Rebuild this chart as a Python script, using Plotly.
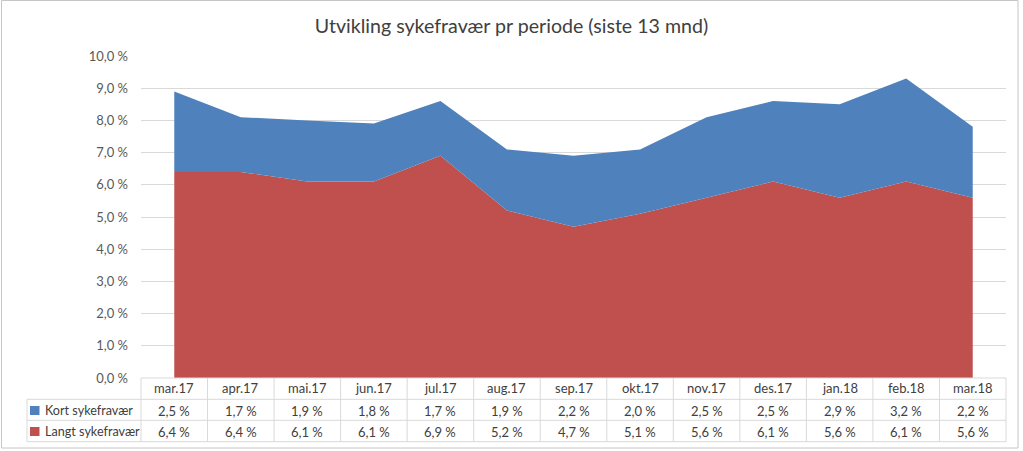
import plotly.graph_objects as go

# ---- data ----
categories = ["mar.17", "apr.17", "mai.17", "jun.17", "jul.17", "aug.17", "sep.17",
              "okt.17", "nov.17", "des.17", "jan.18", "feb.18", "mar.18"]
kort = [2.5, 1.7, 1.9, 1.8, 1.7, 1.9, 2.2, 2.0, 2.5, 2.5, 2.9, 3.2, 2.2]
langt = [6.4, 6.4, 6.1, 6.1, 6.9, 5.2, 4.7, 5.1, 5.6, 6.1, 5.6, 6.1, 5.6]
series_names = ["Kort sykefravær", "Langt sykefravær"]
y_ticks = [0, 1, 2, 3, 4, 5, 6, 7, 8, 9, 10]
title_text = "Utvikling sykefravær pr periode (siste 13 mnd)"

BLUE = "#4F81BD"
RED = "#C0504D"
GRID = "#d9d9d9"
TXT = "#404040"
FONT = "Lato"

W, H = 1023, 451
L, R, T, B = 141, 17, 56, 73
PW, PH = W - L - R, H - T - B


def px(x):
    return (x - L) / PW


def py(y):
    return (H - B - y) / PH


def fmt(v):
    return f"{v:.1f}".replace(".", ",") + " %"


fig = go.Figure()
fig.add_trace(go.Scatter(x=categories, y=langt, name=series_names[1], stackgroup="one",
                         mode="none", fillcolor=RED, hoverinfo="skip"))
fig.add_trace(go.Scatter(x=categories, y=kort, name=series_names[0], stackgroup="one",
                         mode="none", fillcolor=BLUE, hoverinfo="skip"))

n = len(categories)
shapes = []
annotations = []

line_style = dict(color=GRID, width=1)
y_top = py(378)
y_r1 = py(399.3)
y_r2 = py(420.3)
y_r3 = py(441.7)
# horizontal table lines
shapes.append(dict(type="line", xref="paper", yref="paper", x0=0, x1=1, y0=y_top, y1=y_top, line=line_style))
for yy in (y_r1, y_r2, y_r3):
    shapes.append(dict(type="line", xref="paper", yref="paper", x0=px(27), x1=1, y0=yy, y1=yy, line=line_style))
# vertical table lines
shapes.append(dict(type="line", xref="paper", yref="paper", x0=px(27), x1=px(27), y0=y_r1, y1=y_r3, line=line_style))
for k in range(n + 1):
    xx = k / n
    shapes.append(dict(type="line", xref="paper", yref="paper", x0=xx, x1=xx, y0=y_top, y1=y_r3, line=line_style))

# outer chart border
shapes.append(dict(type="rect", xref="paper", yref="paper", x0=px(1.5), x1=px(1018),
                   y0=py(448), y1=py(0.5), line=dict(color="#c6c6c6", width=1)))

# legend keys
row_y = [py(410.5), py(431.5)]
for col, yy in zip([BLUE, RED], row_y):
    shapes.append(dict(type="rect", xref="paper", yref="paper", x0=px(30), x1=px(39.5),
                       y0=yy - 4.5 / PH, y1=yy + 4.5 / PH, fillcolor=col, line=dict(width=0)))

for name, yy in zip(series_names, row_y):
    annotations.append(dict(xref="paper", yref="paper", x=px(42.5), y=yy, text=name, showarrow=False,
                            xanchor="left", yanchor="middle", font=dict(family=FONT, size=12.6, color=TXT)))

cat_y = py(388)
for i, c in enumerate(categories):
    xc = (i + 0.5) / n
    annotations.append(dict(xref="paper", yref="paper", x=xc, y=cat_y, text=c, showarrow=False,
                            xanchor="center", yanchor="middle", font=dict(family=FONT, size=13, color=TXT)))
    annotations.append(dict(xref="paper", yref="paper", x=xc, y=row_y[0], text=fmt(kort[i]), showarrow=False,
                            xanchor="center", yanchor="middle", font=dict(family=FONT, size=13, color=TXT)))
    annotations.append(dict(xref="paper", yref="paper", x=xc, y=row_y[1], text=fmt(langt[i]), showarrow=False,
                            xanchor="center", yanchor="middle", font=dict(family=FONT, size=13, color=TXT)))

fig.update_layout(
    width=W, height=H,
    margin=dict(l=L, r=R, t=T, b=B),
    paper_bgcolor="white", plot_bgcolor="white",
    showlegend=False,
    title=dict(text=title_text, x=0.5, xref="container", xanchor="center",
               y=1 - 26.5 / H, yref="container", yanchor="middle",
               font=dict(family=FONT, size=19.6, color=TXT)),
    xaxis=dict(type="category", range=[-0.5, n - 0.5], showticklabels=False, showgrid=False,
               showline=False, zeroline=False, ticks="", fixedrange=True),
    yaxis=dict(range=[0, 10], tickvals=y_ticks, ticktext=[fmt(v) for v in y_ticks],
               showgrid=True, gridcolor=GRID, gridwidth=1, showline=False, zeroline=False,
               ticks="", ticklabelstandoff=12, fixedrange=True,
               tickfont=dict(family=FONT, size=13, color="#595959")),
    shapes=shapes,
    annotations=annotations,
)

fig.write_html("out.html")
